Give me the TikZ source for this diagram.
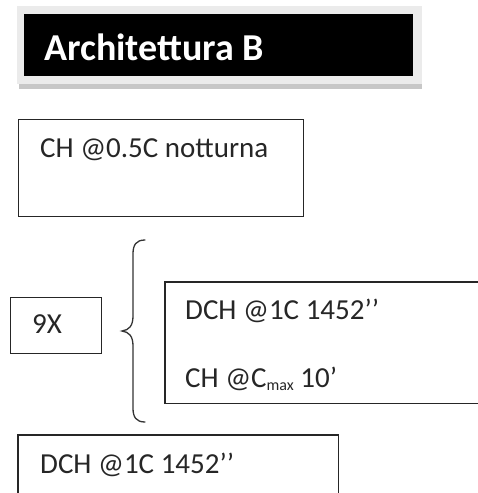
\documentclass[tikz,border=0pt]{standalone}
\usepackage{fontspec}
\setmainfont{Carlito}
\begin{document}
\begin{tikzpicture}[x=1pt,y=-1pt,
  box/.style={draw=black!85, line width=1.3pt, fill=none, inner sep=0pt, anchor=north west},
  openbox/.style={inner sep=0pt, anchor=north west},
  edge/.style={draw=black!85, line width=1.3pt},
  txt/.style={text=black!85, inner sep=0pt, anchor=base west, font=\fontsize{29}{29}\selectfont},
  brace/.style={draw=black!80, line width=1.3pt, line cap=round}]
\path[use as bounding box] (0,0) rectangle (478,493);
% title
\fill[black!22] (19,80) rectangle (422,89);
\fill[black!8] (17,6) rectangle (422,84);
\node[fill=black, inner sep=0pt, anchor=north west, minimum width=389pt, minimum height=62pt] (title) at (24,14) {};
\node[inner sep=0pt, anchor=base west, text=white, font=\fontsize{38}{38}\selectfont\bfseries] (titletxt) at (44,60) {Architettura B};
% box 1
\node[box, minimum width=285pt, minimum height=97pt] (b1) at (18,119) {};
\node[txt] (b1t) at (40,157) {CH @0.5C notturna};
% 9X
\node[box, minimum width=91pt, minimum height=56pt] (nx) at (10,297) {};
\node[txt] (nxt) at (32,333) {9X};
% brace
\coordinate (bt) at (145,240);
\coordinate (bm) at (122,331);
\coordinate (bb) at (145,422);
\draw[brace] (bt) .. controls (136,240) and (133,245) .. (133,254)
  -- (133,316) .. controls (133,326) and (129,330) .. (bm)
  .. controls (129,332) and (133,336) .. (133,346)
  -- (133,408) .. controls (133,417) and (136,422) .. (bb);
% right box (runs off the right edge)
\node[openbox, minimum width=313pt, minimum height=121pt] (br) at (165,282) {};
\draw[edge] (br.north east) -- (br.north west) -- (br.south west) -- (br.south east);
\node[txt] (brt1) at (185,319) {DCH @1C 1452’’};
\node[txt] (brt2) at (185,387) {CH @C\raisebox{-3pt}{\fontsize{16}{16}\selectfont max} 10’};
% bottom box (runs off the bottom edge)
\node[openbox, minimum width=320pt, minimum height=58pt] (bb2) at (18,435) {};
\draw[edge] (bb2.south west) -- (bb2.north west) -- (bb2.north east) -- (bb2.south east);
\node[txt] (bbt) at (40,473) {DCH @1C 1452’’};
\end{tikzpicture}
\end{document}
